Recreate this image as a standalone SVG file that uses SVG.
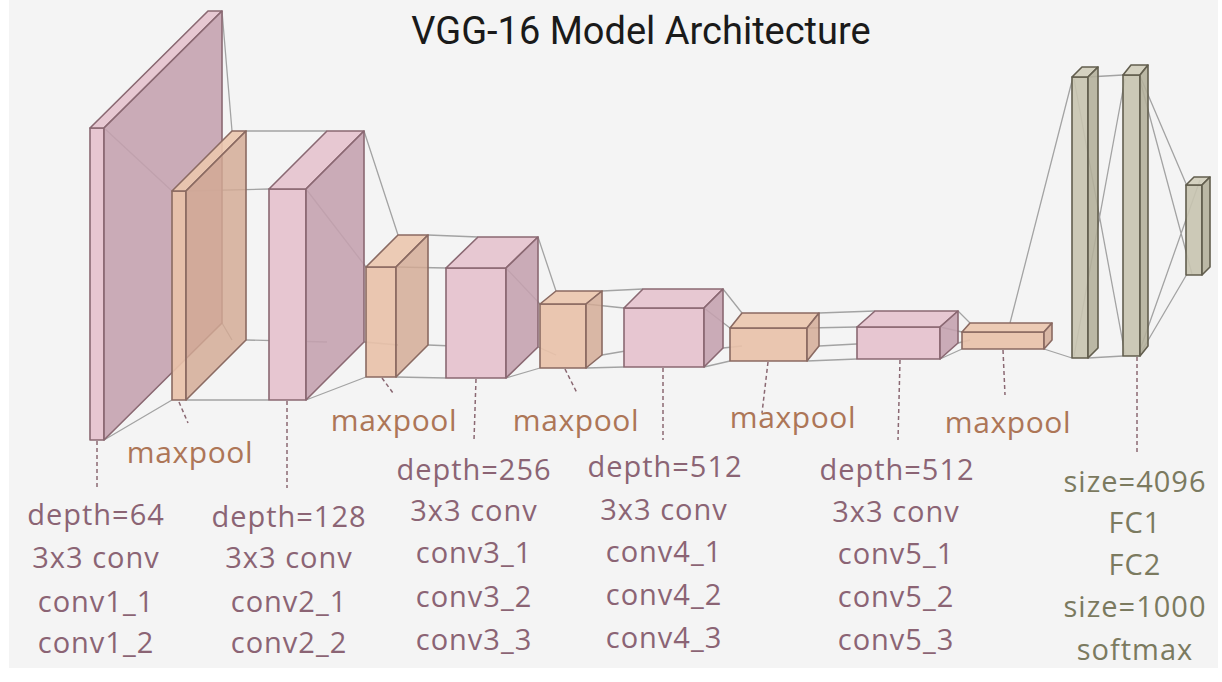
<svg xmlns="http://www.w3.org/2000/svg" width="1222" height="682" viewBox="0 0 1222 682">
<defs>
<style>
.bg{fill:#f4f4f4}
.pf{fill:#e7c6d1;stroke:#8a6872;stroke-width:1.6;stroke-linejoin:round}
.pt{fill:#e6c3ce;stroke:#8a6872;stroke-width:1.6;stroke-linejoin:round;fill-opacity:.9}
.ps{fill:#c4a1ae;stroke:#8a6872;stroke-width:1.6;stroke-linejoin:round;fill-opacity:.88}
.of{fill:#e8c1a9;stroke:#8a6a62;stroke-width:1.6;stroke-linejoin:round;fill-opacity:.92}
.ot{fill:#ebc6ae;stroke:#8a6a62;stroke-width:1.6;stroke-linejoin:round;fill-opacity:.9}
.os{fill:#d3aa94;stroke:#8a6a62;stroke-width:1.6;stroke-linejoin:round;fill-opacity:.82}
.gf{fill:#c8c4b0;stroke:#625e4e;stroke-width:1.6;stroke-linejoin:round;fill-opacity:.9}
.gt{fill:#d2cebb;stroke:#625e4e;stroke-width:1.6;stroke-linejoin:round;fill-opacity:.9}
.gs{fill:#b3af9a;stroke:#625e4e;stroke-width:1.6;stroke-linejoin:round;fill-opacity:.88}
.cn{stroke:#a3a3a3;stroke-width:1.3;fill:none}
.dash{stroke:#8a6872;stroke-width:1.5;stroke-dasharray:4 3;fill:none}
.title{font-family:Roboto,"Liberation Sans",sans-serif;font-size:38px;fill:#1a1a1a;text-anchor:middle}
.lp{font-family:"Open Sans","Noto Sans",sans-serif;font-size:29px;letter-spacing:1px;fill:#8b6474;text-anchor:middle}
.lm{font-family:"Open Sans","Noto Sans",sans-serif;font-size:30px;letter-spacing:0.6px;fill:#ad7657;text-anchor:middle}
.lg{font-family:"Open Sans","Noto Sans",sans-serif;font-size:29px;letter-spacing:1px;fill:#7b7a5f;text-anchor:middle}
</style>
</defs>
<rect width="1222" height="682" fill="#ffffff"/>
<rect class="bg" x="9" y="0" width="1209" height="668"/>
<text class="title" x="641" y="44">VGG-16 Model Architecture</text>

<g id="connectors">
<path class="cn" d="M104,128L172,191M104,440L172,400M222,11L232,131M222,323L232,340"/>
<path class="cn" d="M186,191L269,189M186,400L269,400M246,131L327,131M246,340L327,342"/>
<path class="cn" d="M306,189L366,267M306,400L366,377M364,131L398,235M364,342L398,345"/>
<path class="cn" d="M396,267L446,268M396,377L446,378M428,235L478,237M428,345L478,347"/>
<path class="cn" d="M506,268L540,304M506,378L540,368M538,237L556,291M538,347L556,355"/>
<path class="cn" d="M586,304L624,308M586,368L624,367M602,291L643,289M602,355L643,348"/>
<path class="cn" d="M704,308L730,328M704,367L730,361M723,289L742,313M723,348L742,346"/>
<path class="cn" d="M807,328L857,327M807,361L857,359M819,313L875,311M819,346L875,343"/>
<path class="cn" d="M940,327L962,332M940,359L962,349M958,311L970,323M958,343L970,340"/>
<path class="cn" d="M1010,323L1073,77M1044,349L1072,358"/>
<path class="cn" d="M1088,77L1123,75M1088,358L1123,356M1074,79L1125,354M1074,356L1125,79"/>
<path class="cn" d="M1140,76L1187,186M1140,80L1192,274M1140,354L1187,274M1140,350L1200,180"/>
<path class="dash" d="M97,441V487M179,402L188,423M287,401V488M382,378L393,393M476,379L474,440M565,369L577,393M663,368V440M768,362L762,413M900,360L898,440M1003,350L1005,395M1137,357V452"/>
</g>

<g id="conv1">
<rect class="pf" x="90" y="128" width="14" height="312"/>
<polygon class="pt" points="90,128 104,128 222,11 208,11"/>
<polygon class="ps" points="104,128 222,11 222,323 104,440"/>
</g>
<g id="pool1">
<rect class="of" x="172" y="191" width="14" height="209"/>
<polygon class="ot" points="172,191 186,191 246,131 232,131"/>
<polygon class="os" points="186,191 246,131 246,340 186,400"/>
</g>
<g id="conv2">
<rect class="pf" x="269" y="189" width="37" height="211"/>
<polygon class="pt" points="269,189 306,189 364,131 327,131"/>
<polygon class="ps" points="306,189 364,131 364,342 306,400"/>
</g>
<g id="pool2">
<rect class="of" x="366" y="267" width="30" height="110"/>
<polygon class="ot" points="366,267 396,267 428,235 398,235"/>
<polygon class="os" points="396,267 428,235 428,345 396,377"/>
</g>
<g id="conv3">
<rect class="pf" x="446" y="268" width="60" height="110"/>
<polygon class="pt" points="446,268 506,268 538,237 478,237"/>
<polygon class="ps" points="506,268 538,237 538,347 506,378"/>
</g>
<g id="pool3">
<rect class="of" x="540" y="304" width="46" height="64"/>
<polygon class="ot" points="540,304 586,304 602,291 556,291"/>
<polygon class="os" points="586,304 602,291 602,355 586,368"/>
</g>
<g id="conv4">
<rect class="pf" x="624" y="308" width="80" height="59"/>
<polygon class="pt" points="624,308 704,308 723,289 643,289"/>
<polygon class="ps" points="704,308 723,289 723,348 704,367"/>
</g>
<g id="pool4">
<rect class="of" x="730" y="328" width="77" height="33"/>
<polygon class="ot" points="730,328 807,328 819,313 742,313"/>
<polygon class="os" points="807,328 819,313 819,346 807,361"/>
</g>
<g id="conv5">
<rect class="pf" x="857" y="327" width="83" height="32"/>
<polygon class="pt" points="857,327 940,327 958,311 875,311"/>
<polygon class="ps" points="940,327 958,311 958,343 940,359"/>
</g>
<g id="pool5">
<rect class="of" x="962" y="332" width="82" height="17"/>
<polygon class="ot" points="962,332 1044,332 1052,323 970,323"/>
<polygon class="os" points="1044,332 1052,323 1052,340 1044,349"/>
</g>
<g id="fc1">
<rect class="gf" x="1072" y="77" width="16" height="281"/>
<polygon class="gt" points="1072,77 1088,77 1098,67 1082,67"/>
<polygon class="gs" points="1088,77 1098,67 1098,348 1088,358"/>
</g>
<g id="fc2">
<rect class="gf" x="1123" y="75" width="17" height="281"/>
<polygon class="gt" points="1123,75 1140,75 1148,65 1131,65"/>
<polygon class="gs" points="1140,75 1148,65 1148,346 1140,356"/>
</g>
<g id="fc3">
<rect class="gf" x="1186" y="185" width="16" height="90"/>
<polygon class="gt" points="1186,185 1202,185 1210,177 1194,177"/>
<polygon class="gs" points="1202,185 1210,177 1210,267 1202,275"/>
</g>

<g id="labels">
<text class="lm" x="190" y="463">maxpool</text>
<text class="lm" x="394" y="431">maxpool</text>
<text class="lm" x="576" y="431">maxpool</text>
<text class="lm" x="793" y="428">maxpool</text>
<text class="lm" x="1008" y="433">maxpool</text>

<text class="lp" x="96" y="525">depth=64</text>
<text class="lp" x="96" y="568">3x3 conv</text>
<text class="lp" x="96" y="612">conv1_1</text>
<text class="lp" x="96" y="653">conv1_2</text>

<text class="lp" x="289" y="527">depth=128</text>
<text class="lp" x="289" y="568">3x3 conv</text>
<text class="lp" x="289" y="612">conv2_1</text>
<text class="lp" x="289" y="653">conv2_2</text>

<text class="lp" x="474" y="480">depth=256</text>
<text class="lp" x="474" y="521">3x3 conv</text>
<text class="lp" x="474" y="563">conv3_1</text>
<text class="lp" x="474" y="607">conv3_2</text>
<text class="lp" x="474" y="650">conv3_3</text>

<text class="lp" x="665" y="477">depth=512</text>
<text class="lp" x="664" y="520">3x3 conv</text>
<text class="lp" x="664" y="562">conv4_1</text>
<text class="lp" x="664" y="605">conv4_2</text>
<text class="lp" x="664" y="648">conv4_3</text>

<text class="lp" x="897" y="480">depth=512</text>
<text class="lp" x="896" y="522">3x3 conv</text>
<text class="lp" x="896" y="564">conv5_1</text>
<text class="lp" x="896" y="607">conv5_2</text>
<text class="lp" x="896" y="650">conv5_3</text>

<text class="lg" x="1135" y="492">size=4096</text>
<text class="lg" x="1135" y="533">FC1</text>
<text class="lg" x="1135" y="575">FC2</text>
<text class="lg" x="1135" y="617">size=1000</text>
<text class="lg" x="1135" y="660">softmax</text>
</g>
</svg>
